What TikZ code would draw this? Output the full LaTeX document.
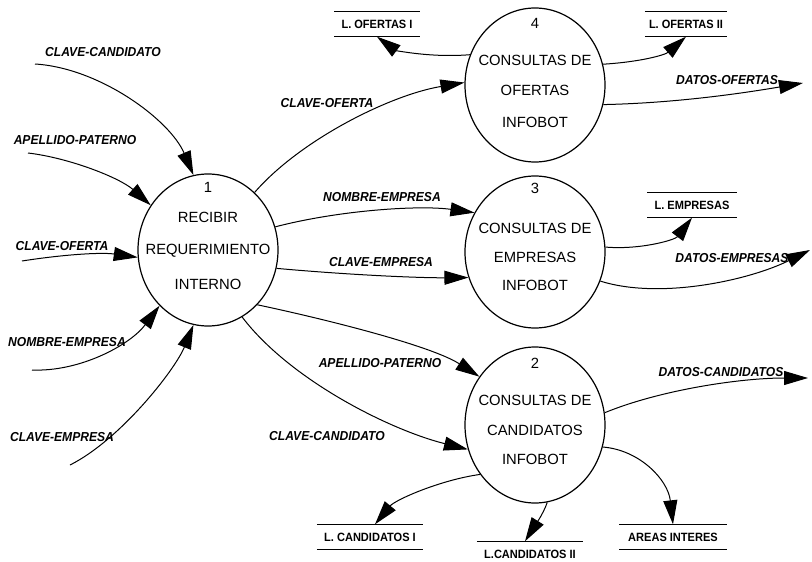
\documentclass[tikz,border=0pt]{standalone}
\usepackage{fontspec}
\setmainfont{Liberation Sans}
\newfontfamily\flowfont{Liberation Sans}[FakeStretch=0.93]
\newfontfamily\storefont{Liberation Sans}[FakeStretch=0.92]
\usetikzlibrary{arrows.meta,shapes.geometric,calc}

\begin{document}
\begin{tikzpicture}[x=1pt,y=-1pt,
  proc/.style={ellipse,draw,line width=1.2pt,minimum width=140pt,inner sep=0pt},
  ptext/.style={font=\fontsize{14.8}{16}\selectfont,inner sep=0pt},
  flow/.style={line width=1pt,-{Triangle[length=24pt,width=14pt]}},
  flowlbl/.style={font=\flowfont\bfseries\itshape\fontsize{13}{15}\selectfont,inner sep=1pt},
  store/.style={font=\storefont\bfseries\fontsize{12}{14}\selectfont,inner sep=0pt,minimum height=25pt},
  storeline/.style={line width=1.3pt},
]
\useasboundingbox[fill=white] (0,0) rectangle (812,562);

% ---- processes ----
\node[proc,minimum height=152pt] (p1) at (208,250) {};
\node[ptext] (p1n) at (208,187) {1};
\node[ptext] (p1a) at (208,217) {RECIBIR};
\node[ptext] (p1b) at (208,251) {REQUERIMIENTO};
\node[ptext] (p1c) at (208,284) {INTERNO};

\node[proc,minimum height=154pt] (p4) at (535,85) {};
\node[ptext] (p4n) at (535,23) {4};
\node[ptext] (p4a) at (535,60) {CONSULTAS DE};
\node[ptext] (p4b) at (535,90) {OFERTAS};
\node[ptext] (p4c) at (535,122) {INFOBOT};

\node[proc,minimum height=152pt] (p3) at (535,252) {};
\node[ptext] (p3n) at (535,188) {3};
\node[ptext] (p3a) at (535,228) {CONSULTAS DE};
\node[ptext] (p3b) at (535,257) {EMPRESAS};
\node[ptext] (p3c) at (535,285) {INFOBOT};

\node[proc,minimum height=156pt] (p2) at (535,425) {};
\node[ptext] (p2n) at (535,363) {2};
\node[ptext] (p2a) at (535,400) {CONSULTAS DE};
\node[ptext] (p2b) at (535,430) {CANDIDATOS};
\node[ptext] (p2c) at (535,459) {INFOBOT};

% ---- data stores ----
\node[store,minimum width=85pt] (lo1) at (377,24) {L. OFERTAS I};
\node[store,minimum width=82pt] (lo2) at (686,24) {L. OFERTAS II};
\node[store,minimum width=89pt] (le) at (692,205) {L. EMPRESAS};
\node[store,minimum width=106pt] (lc1) at (370,537) {L. CANDIDATOS I};
\node[store,minimum width=106pt] (lc2) at (530,554) {L.CANDIDATOS II};
\node[store,minimum width=107pt] (ai) at (673,537) {AREAS INTERES};
\foreach \s in {lo1,lo2,le,lc1,lc2,ai}{
  \draw[storeline] (\s.north west) -- (\s.north east);
  \draw[storeline] (\s.south west) -- (\s.south east);
}

% ---- external ends ----
\coordinate (inCC) at (35,64);
\coordinate (inAP) at (28,153);
\coordinate (inCO) at (22,261);
\coordinate (inNE) at (32,370);
\coordinate (inCE) at (70,465);
\coordinate (outDO) at (803,83);
\coordinate (outDE) at (810,250);
\coordinate (outDC) at (808,378);

% ---- inputs to process 1 ----
\draw[flow] (inCC) .. controls (100,68) and (170,120) .. (p1.101);
\draw[flow] (inAP) .. controls (70,158) and (120,178) .. (p1.142);
\draw[flow] (inCO) .. controls (60,255) and (100,252) .. (p1.186);
\draw[flow] (inNE) .. controls (80,372) and (130,345) .. (p1.229);
\draw[flow] (inCE) .. controls (120,440) and (175,370) .. (p1.259);
\node[flowlbl] (lCC) at (103,52) {CLAVE-CANDIDATO};
\node[flowlbl] (lAP) at (75,140) {APELLIDO-PATERNO};
\node[flowlbl] (lCO) at (62,246) {CLAVE-OFERTA};
\node[flowlbl] (lNE) at (67,342) {NOMBRE-EMPRESA};
\node[flowlbl] (lCE) at (62,437) {CLAVE-EMPRESA};

% ---- process 1 to the queries ----
\draw[flow] (p1.51) .. controls (300,140) and (390,95) .. (p4.178);
\draw[flow] (p1.19) .. controls (340,210) and (420,205) .. (p3.147);
\draw[flow] (p1.-15) .. controls (350,275) and (420,278) .. (p3.201);
\draw[flow] (p1.-48) .. controls (320,318) and (430,345) .. (p2.139);
\draw[flow] (p1.-63) .. controls (290,380) and (390,430) .. (p2.200);
\node[flowlbl] (m1) at (327,103) {CLAVE-OFERTA};
\node[flowlbl] (m2) at (382,197) {NOMBRE-EMPRESA};
\node[flowlbl] (m3) at (381,262) {CLAVE-EMPRESA};
\node[flowlbl] (m4) at (380,363) {APELLIDO-PATERNO};
\node[flowlbl] (m5) at (327,436) {CLAVE-CANDIDATO};

% ---- outputs of the queries ----
\draw[flow] (p4.155) .. controls (430,58) and (395,50) .. (lo1.south);
\draw[flow] (p4.17) .. controls (640,62) and (665,55) .. (lo2.south);
\draw[flow] (p4.-16) .. controls (680,103) and (750,92) .. (outDO);
\node[flowlbl] (o1) at (727,80) {DATOS-OFERTAS};

\draw[flow] (p3.4) .. controls (640,250) and (675,240) .. (le.south);
\draw[flow] (p3.-24) .. controls (660,300) and (750,280) .. (outDE);
\node[flowlbl] (o2) at (732,258) {DATOS-EMPRESAS};

\draw[flow] (p2.10) .. controls (660,390) and (740,378) .. (outDC);
\draw[flow] (p2.-18) .. controls (640,450) and (668,480) .. (ai.north);
\draw[flow] (p2.222) .. controls (440,480) and (395,500) .. ($(lc1.north)+(5,0)$);
\draw[flow] (p2.-81) .. controls (543,515) and (532,530) .. ($(lc2.north)+(-5,0)$);
\node[flowlbl] (o3) at (721,372) {DATOS-CANDIDATOS};
\end{tikzpicture}
\end{document}
